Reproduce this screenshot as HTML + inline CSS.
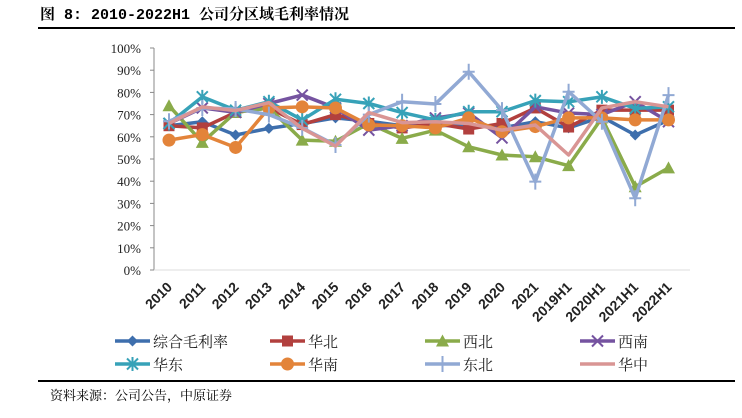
<!DOCTYPE html>
<html><head><meta charset="utf-8"><style>
body{margin:0;background:#fff;width:742px;height:413px;overflow:hidden;font-family:"Liberation Serif","Noto Serif CJK SC",serif}
</style></head><body>
<svg width="742" height="413" xmlns="http://www.w3.org/2000/svg">
<text x="40" y="19" font-size="15" font-weight="bold" font-family="'Liberation Mono','Noto Serif CJK SC',serif">图 8: 2010-2022H1 公司分区域毛利率情况</text>
<line x1="38" y1="28" x2="735" y2="28" stroke="#000" stroke-width="2"/>
<g id="axes"></g>
<g id="series"></g>
<g id="legend"></g>
<line x1="38" y1="381" x2="735" y2="381" stroke="#000" stroke-width="2"/>
<text x="50" y="400" font-size="13" font-family="'Liberation Serif','Noto Serif CJK SC',serif">资料来源：公司公告，中原证券</text>
</svg>
<script>
const categories=["2010","2011","2012","2013","2014","2015","2016","2017","2018","2019","2020","2021","2019H1","2020H1","2021H1","2022H1"];
const yTicks=[0,10,20,30,40,50,60,70,80,90,100];
const sComposite=[65,66.8,60.8,63.8,66,68.5,67,65,65,65.3,64,66.8,64,69,60.8,67.5];
const sNorth=[65,64,71,73,65.5,70,66,64,66,63.5,66,73,64.4,72,72,72];
const sNorthwest=[74,57.5,71,73,58.5,58,66,59.3,63,55.5,51.8,51,47,68.5,37.5,46];
const sSouthwest=[66,73,71,75,78.8,73,63,65,68.5,70.7,59.5,73.5,70.7,70,75.8,66.8];
const sEast=[66,78,72,75.8,67.6,76.9,75,70.9,67.6,71.3,71.3,76.3,75.8,78,72.8,73.5];
const sSouth=[58.5,61,55.2,73,73.5,73,65.3,65,64,68.5,62.3,64.6,68.5,68.5,67.6,67.6];
const sNortheast=[67,73,72.5,70,64,56.3,70,75.8,74.8,89.3,72,39.8,80.3,66.8,32.3,78.8];
const sCentral=[66,73.5,71.8,75.4,63.8,55.8,70.9,66.4,66.8,66,63,65.3,51.8,73,75.8,73.5];
const seriesNames=["综合毛利率","华北","西北","西南","华东","华南","东北","华中"];
const NS="http://www.w3.org/2000/svg";
const X0=169,DX=33.3,Y0=270,YH=222;
const xs=i=>X0+DX*i, ys=v=>Y0-v/100*YH;
function mk(t,a,p){const e=document.createElementNS(NS,t);for(const k in a)e.setAttribute(k,a[k]);p.appendChild(e);return e;}
const ax=document.getElementById('axes');
let yl=mk('line',{x1:154,y1:48,x2:154,y2:270,stroke:'#888'},ax);


let xl=mk('line',{x1:154,y1:270,x2:690,y2:270,stroke:'#ddd'},ax);


yTicks.forEach(v=>{
 mk('line',{x1:150,y1:ys(v),x2:154,y2:ys(v),stroke:'#888'},ax);
 const t=mk('text',{x:141,y:ys(v)+5,'text-anchor':'end','font-size':13,fill:'#222'},ax);
 t.textContent=v+'%';
 
 
});
categories.forEach((c,i)=>{
 const x=xs(i)+4, y=288;
 const t=mk('text',{x:x,y:y,'text-anchor':'end','font-size':14,'font-weight':'bold',fill:'#222',transform:`rotate(-45 ${x} ${y})`,'font-family':"'Liberation Sans',sans-serif"},ax);
 t.textContent=c;
 
 
});
const colors=["#3e6fad","#b2403e","#8aab4a","#7553a0","#37a2b8","#e3843a","#91a9d4","#d99594"];
const markers=["diamond","square","triangle","x","star","circle","plus","none"];
const allData=[sComposite,sNorth,sNorthwest,sSouthwest,sEast,sSouth,sNortheast,sCentral];
function marker(type,x,y,c,g){
 if(type==='diamond')mk('path',{d:`M${x} ${y-5.5}L${x+5.5} ${y}L${x} ${y+5.5}L${x-5.5} ${y}Z`,fill:c},g);
 else if(type==='square')mk('rect',{x:x-5.5,y:y-5.5,width:11,height:11,fill:c},g);
 else if(type==='triangle')mk('path',{d:`M${x} ${y-6.5}L${x+6.5} ${y+5.5}L${x-6.5} ${y+5.5}Z`,fill:c},g);
 else if(type==='circle')mk('circle',{cx:x,cy:y,r:6.5,fill:c},g);
 else if(type==='x')mk('path',{d:`M${x-5.5} ${y-5.5}L${x+5.5} ${y+5.5}M${x+5.5} ${y-5.5}L${x-5.5} ${y+5.5}`,stroke:c,'stroke-width':2},g);
 else if(type==='star')mk('path',{d:`M${x-5.5} ${y-5.5}L${x+5.5} ${y+5.5}M${x+5.5} ${y-5.5}L${x-5.5} ${y+5.5}M${x} ${y-7}L${x} ${y+7}`,stroke:c,'stroke-width':2},g);
 else if(type==='plus')mk('path',{d:`M${x} ${y-8}L${x} ${y+8}M${x-6} ${y}L${x+6} ${y}`,stroke:c,'stroke-width':2},g);
}
const sg=document.getElementById('series');
allData.forEach((d,k)=>{
 const g=mk('g',{},sg);
 
 
 mk('polyline',{points:d.map((v,i)=>xs(i)+','+ys(v)).join(' '),fill:'none',stroke:colors[k],'stroke-width':3.5,'stroke-linejoin':'round'},g);
 d.forEach((v,i)=>marker(markers[k],xs(i),ys(v),colors[k],g));
});
const lg=document.getElementById('legend');
const colX=[115,270,425,580],rowY=[341,364];
seriesNames.forEach((n,k)=>{
 const x=colX[k%4],y=rowY[Math.floor(k/4)];
 const g=mk('g',{},lg);
 
 
 mk('line',{x1:x,y1:y,x2:x+35,y2:y,stroke:colors[k],'stroke-width':3.5},g);
 marker(markers[k],x+17.5,y,colors[k],g);
 const t=mk('text',{x:x+38,y:y+6,'font-size':15,fill:'#222'},g);
 t.textContent=n;
});
</script>
</body></html>
